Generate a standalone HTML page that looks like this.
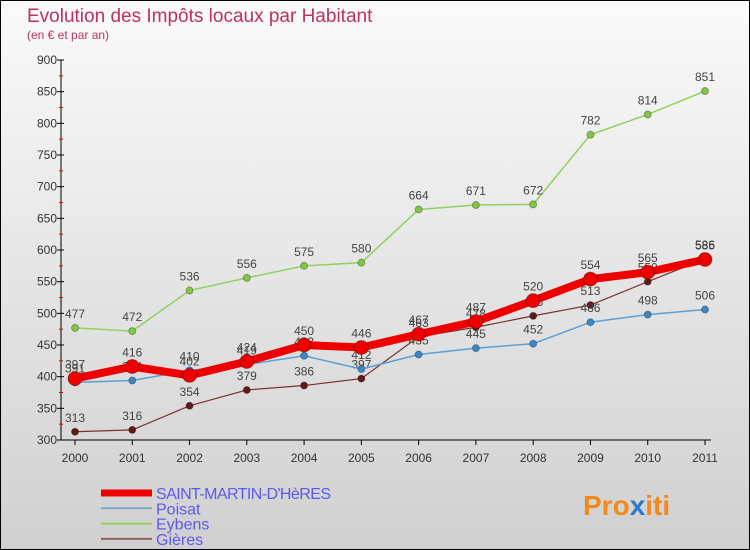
<!DOCTYPE html>
<html><head><meta charset="utf-8"><style>
body{margin:0}
#c{width:748px;height:548px;border:1px solid #000;background:linear-gradient(#fafafa,#d0d0d0);position:relative;overflow:hidden;font-family:"Liberation Sans",sans-serif}
</style></head><body>
<div id="c">
<svg id="s" width="748" height="548" style="position:absolute;left:0;top:0">
<text x="26" y="21" font-size="19" fill="#c0305e">Evolution des Impôts locaux par Habitant</text>
<text x="26" y="38" font-size="12" fill="#c0305e">(en € et par an)</text>
<g id="axes"></g><g id="series"></g><g id="legend"></g>
<text x="582" y="514" font-size="28" font-weight="bold" fill="#f08a1c">Pro<tspan fill="#2a7ad0">x</tspan>iti</text>
</svg>
</div>
<script>
const years=[2000,2001,2002,2003,2004,2005,2006,2007,2008,2009,2010,2011];
const yTicks=[300,350,400,450,500,550,600,650,700,750,800,850,900];
const smh=[397,416,402,424,450,446,467,487,520,554,565,585];
const poisat=[391,394,410,419,433,412,435,445,452,486,498,506];
const eybens=[477,472,536,556,575,580,664,671,672,782,814,851];
const gieres=[313,316,354,379,386,397,463,478,496,513,550,586];
const NS="http://www.w3.org/2000/svg";
const X=i=>74+i*(630/11);
const Y=v=>439-(v-300)*(380/600);
function mk(t,a,p){const e=document.createElementNS(NS,t);for(const k in a)e.setAttribute(k,a[k]);p.appendChild(e);return e;}
const ax=document.getElementById('axes');
const ya=mk('line',{x1:60,y1:Y(900),x2:60,y2:Y(300),stroke:'#000'},ax);


const xa=mk('line',{x1:60,y1:Y(300),x2:710,y2:Y(300),stroke:'#000'},ax);


yTicks.forEach((v,i)=>{
  mk('line',{x1:56,y1:Y(v),x2:63,y2:Y(v),stroke:'#000'},ax);
  if(i<yTicks.length-1) mk('line',{x1:58,y1:Y(v+25),x2:62,y2:Y(v+25),stroke:'#e00'},ax);
  const t=mk('text',{x:56,y:Y(v)+4,'font-size':12,fill:'#333','text-anchor':'end'},ax);
  t.textContent=v;
  
  
});
years.forEach((y,i)=>{
  mk('line',{x1:X(i),y1:Y(300),x2:X(i),y2:Y(300)+5,stroke:'#000'},ax);
  const t=mk('text',{x:X(i),y:Y(300)+22,'font-size':12,fill:'#333','text-anchor':'middle'},ax);
  t.textContent=y;
  
  
});
const sg=document.getElementById('series');
const series=[
 {n:'eybens',d:eybens,c:'#90d060',w:1.5,r:3.5,f:'#80c840'},
 {n:'gieres',d:gieres,c:'#7a3030',w:1.2,r:3.5,f:'#601818'},
 {n:'poisat',d:poisat,c:'#5aa0d8',w:1.5,r:3.5,f:'#3a88c8'},
 {n:'saint-martin-dheres',d:smh,c:'#ee0000',w:8,r:7,f:'#ee0000'}
];
series.forEach(s=>{
  const p=mk('polyline',{points:s.d.map((v,i)=>X(i)+','+Y(v)).join(' '),fill:'none',stroke:s.c,'stroke-width':s.w},sg);
  
  
  s.d.forEach((v,i)=>{
    const c=mk('circle',{cx:X(i),cy:Y(v),r:s.r,fill:s.f,stroke:'rgba(0,0,0,0.3)'},sg);
    
    
    const t=mk('text',{x:X(i),y:Y(v)-10,'font-size':12,fill:'#444','text-anchor':'middle'},sg);
    t.textContent=v;
    
    
  });
});
const lg=document.getElementById('legend');
const leg=[['SAINT-MARTIN-D\'HèRES','#ee0000',7],['Poisat','#80a8c8',2],['Eybens','#90d060',2],['Gières','#906060',2]];
leg.forEach((l,i)=>{
  const y=492+i*15.3;
  mk('line',{x1:100,y1:y,x2:151,y2:y,stroke:l[1],'stroke-width':l[2]},lg);
  const t=mk('text',{x:155,y:y+6,'font-size':16,fill:'#5a5af0',textLength:i==0?175:null},lg);
  if(i!=0)t.removeAttribute('textLength');
  t.textContent=l[0];
  
  
});
</script>
</body></html>
